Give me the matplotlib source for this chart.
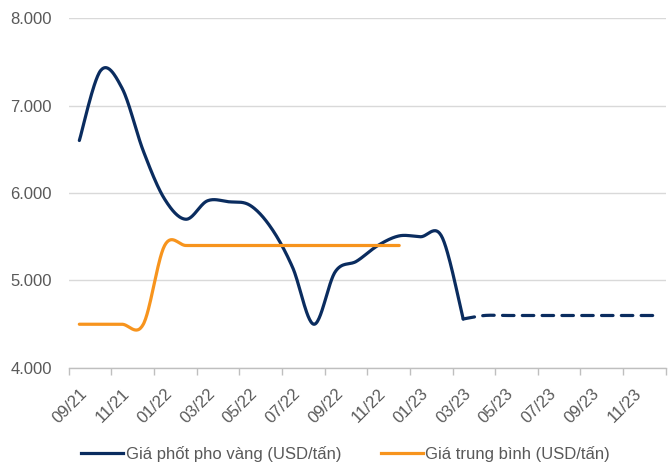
import numpy as np
import matplotlib
matplotlib.use("Agg")
import matplotlib.pyplot as plt
from matplotlib.lines import Line2D
from matplotlib.ticker import FuncFormatter

months = ["09/21", "10/21", "11/21", "12/21", "01/22", "02/22", "03/22", "04/22", "05/22",
          "06/22", "07/22", "08/22", "09/22", "10/22", "11/22", "12/22", "01/23", "02/23",
          "03/23", "04/23", "05/23", "06/23", "07/23", "08/23", "09/23", "10/23", "11/23", "12/23"]
phosphorus_price = [6600, 7400, 7200, 6480, 5930, 5700, 5910, 5900, 5860, 5600, 5150,
                    4500, 5100, 5220, 5400, 5510, 5500, 5500, 4560]
forecast_price = [4560, 4600, 4600, 4600, 4600, 4600, 4600, 4600, 4600, 4600]
forecast_start = 18
average_price = [4500, 4500, 4500, 4500, 5400, 5400, 5400, 5400, 5400, 5400, 5400,
                 5400, 5400, 5400, 5400, 5400]
legend_labels = ["Giá phốt pho vàng (USD/tấn)", "Giá trung bình (USD/tấn)"]
yticks = [4000, 5000, 6000, 7000, 8000]

BLUE = "#0a2c5f"
ORANGE = "#f7941d"
GRAY = "#595959"


def smooth(xs, ys, n=30):
    xs = np.asarray(xs, float)
    ys = np.asarray(ys, float)
    P = np.column_stack([xs, ys])
    Pe = np.vstack([P[0], P, P[-1]])
    out = []
    t = np.linspace(0, 1, n)[:, None]
    for i in range(len(P) - 1):
        p0, p1, p2, p3 = Pe[i], Pe[i + 1], Pe[i + 2], Pe[i + 3]
        b1 = p1 + (p2 - p0) / 6
        b2 = p2 - (p3 - p1) / 6
        seg = ((1 - t) ** 3) * p1 + 3 * ((1 - t) ** 2) * t * b1 + 3 * (1 - t) * t ** 2 * b2 + t ** 3 * p2
        out.append(seg if i == 0 else seg[1:])
    arr = np.vstack(out)
    return arr[:, 0], arr[:, 1]


plt.rcParams['font.family'] = ['Liberation Sans', 'DejaVu Sans']
fig = plt.figure(figsize=(6.7, 4.68), dpi=100)
ax = fig.add_axes([0.1025, 0.2137, 0.8912, 0.7478])

x1 = np.arange(len(phosphorus_price))
sx, sy = smooth(x1, phosphorus_price)
ax.plot(sx, sy, color=BLUE, lw=2.3, solid_capstyle='round', zorder=3)

x2 = np.arange(forecast_start, forecast_start + len(forecast_price))
fx, fy = smooth(x2, forecast_price)
ax.plot(fx, fy, color=BLUE, lw=2.3, dashes=(3.6, 2.6), dash_capstyle='round', zorder=3)

x3 = np.arange(len(average_price))
ox, oy = smooth(x3, average_price)
ax.plot(ox, oy, color=ORANGE, lw=2.3, solid_capstyle='round', zorder=3)

ax.set_xlim(-0.5, len(months) - 0.5)
ax.set_ylim(4000, 8000)
ax.set_yticks(yticks)
ax.yaxis.set_major_formatter(FuncFormatter(lambda v, p: f"{int(v):,}".replace(",", ".")))
ax.grid(axis='y', color='#d9d9d9', lw=1)
ax.set_axisbelow(True)

ax.set_xticks(np.arange(-0.5, len(months), 2))
ax.set_xticklabels([])
ax.set_xticks(np.arange(0, len(months), 2), minor=True)
ax.set_xticklabels(months[::2], minor=True, rotation=45, ha='right', va='top',
                   rotation_mode='anchor', color=GRAY, fontsize=12)
ax.tick_params(axis='x', which='major', length=5, color='#bfbfbf', width=1)
ax.tick_params(axis='x', which='minor', length=0, pad=13)
ax.tick_params(axis='y', length=0, labelsize=12, labelcolor=GRAY, pad=12)

for s in ['top', 'right', 'left']:
    ax.spines[s].set_visible(False)
ax.spines['bottom'].set_color('#bfbfbf')
ax.spines['bottom'].set_linewidth(1)

handles = [Line2D([], [], color=BLUE, lw=2.3), Line2D([], [], color=ORANGE, lw=2.3)]
fig.legend(handles, legend_labels, loc='center', bbox_to_anchor=(0.516, 0.03), ncol=2,
           frameon=False, fontsize=12, labelcolor=GRAY, handlelength=2.5,
           handletextpad=0.15, columnspacing=2.4)

fig.savefig("out.png", dpi=100)
